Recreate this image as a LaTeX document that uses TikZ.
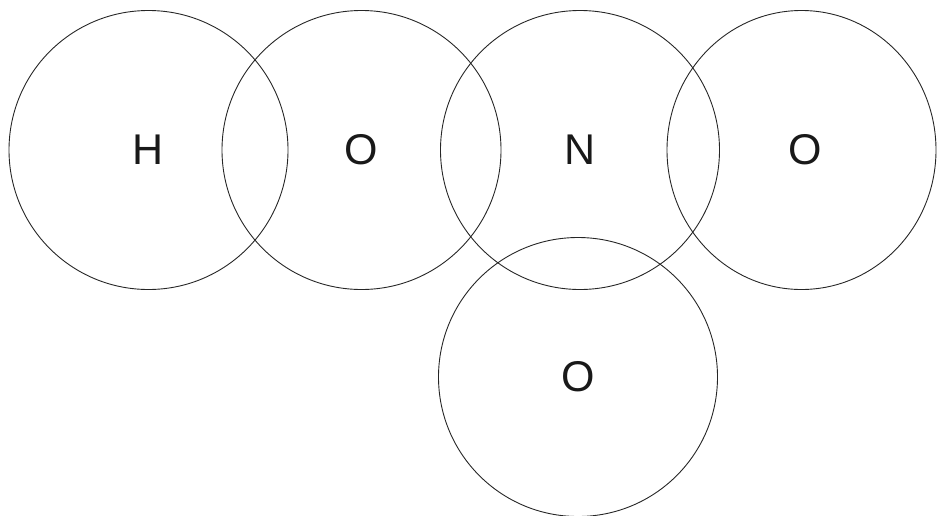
\documentclass[tikz,border=0pt]{standalone}
\usepackage{fontspec}
\usetikzlibrary{shapes.geometric}
\setmainfont{Liberation Sans}
\begin{document}
\begin{tikzpicture}[x=1pt,y=-1pt,
  atom/.style={circle,draw=black!85,line width=0.9pt,minimum size=279pt,inner sep=0pt,
    font=\fontsize{43}{43}\selectfont,text=black!90},
  edgeatom/.style={atom,ellipse,minimum width=269pt,minimum height=279pt}]
\useasboundingbox (0,0) rectangle (937,515);
\begin{scope}
\clip (0,0) rectangle (937,515);
\node[atom] (h)  at (148.5,150) {H};
\node[atom] (o1) at (361.5,150) {O};
\node[atom] (n)  at (580,150) {N};
\node[edgeatom] (o2) at (801.5,150) {\hspace*{8pt}O};
\node[atom] (o3) at (578,377) {O};
\end{scope}
\end{tikzpicture}
\end{document}
